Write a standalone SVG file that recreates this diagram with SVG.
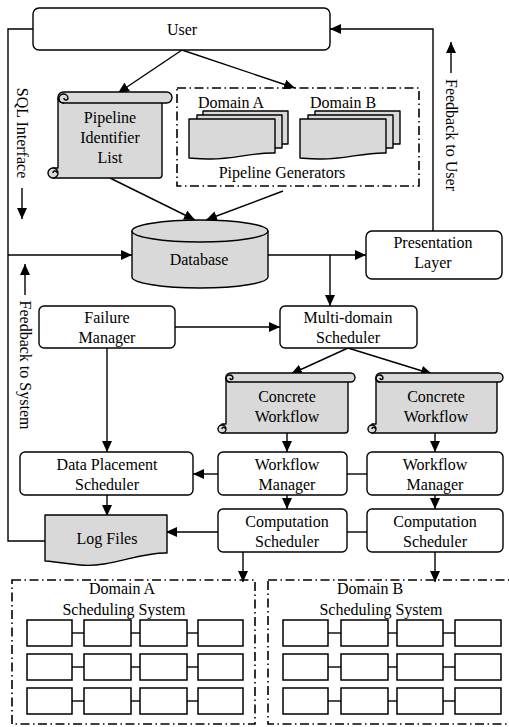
<svg xmlns="http://www.w3.org/2000/svg" width="509" height="727" viewBox="0 0 509 727">
<defs>
<style>
text{font-family:Liberation Serif,serif;font-size:16px;fill:#000;text-anchor:middle}
.box{fill:#fff;stroke:#000;stroke-width:1.4}
.g{fill:#d9d9d9;stroke:#000;stroke-width:1.4;stroke-linejoin:round}
.ln{fill:none;stroke:#000;stroke-width:1.4}
.dd{fill:none;stroke:#000;stroke-width:1.6;stroke-dasharray:9,3.5,1.5,3.5}
.cell{fill:#fff;stroke:#000;stroke-width:1.5}
</style>
<marker id="ah" markerUnits="userSpaceOnUse" markerWidth="12" markerHeight="10" refX="11" refY="5" orient="auto">
<path d="M0,0 L11,5 L0,10 Z" fill="#000"/>
</marker>
</defs>

<g id="connectors" class="ln">
<polyline class="ln" points="34,29 8,29 8,541 45,541"/>
<line x1="8" y1="255" x2="132" y2="255" marker-end="url(#ah)"/>
<polyline class="ln" points="433,231 433,29 330,29" marker-end="url(#ah)"/>
<line x1="182" y1="50" x2="118" y2="93" marker-end="url(#ah)"/>
<line x1="182" y1="50" x2="295" y2="88" marker-end="url(#ah)"/>
<line x1="110" y1="178" x2="195" y2="220" marker-end="url(#ah)"/>
<line x1="283" y1="191" x2="206" y2="220" marker-end="url(#ah)"/>
<line x1="268" y1="255" x2="366" y2="255" marker-end="url(#ah)"/>
<line x1="330" y1="255" x2="330" y2="306" marker-end="url(#ah)"/>
<line x1="175" y1="327" x2="280" y2="327" marker-end="url(#ah)"/>
<line x1="348" y1="348" x2="291" y2="374" marker-end="url(#ah)"/>
<line x1="348" y1="348" x2="432" y2="374" marker-end="url(#ah)"/>
<line x1="107" y1="348" x2="107" y2="452" marker-end="url(#ah)"/>
<line x1="287" y1="433" x2="287" y2="452" marker-end="url(#ah)"/>
<line x1="435" y1="433" x2="435" y2="452" marker-end="url(#ah)"/>
<line x1="218" y1="474" x2="193" y2="474" marker-end="url(#ah)"/>
<line x1="347" y1="474" x2="367" y2="474"/>
<line x1="287" y1="495" x2="287" y2="509" marker-end="url(#ah)"/>
<line x1="435" y1="495" x2="435" y2="509" marker-end="url(#ah)"/>
<line x1="107" y1="495" x2="107" y2="516" marker-end="url(#ah)"/>
<line x1="218" y1="532" x2="166" y2="532" marker-end="url(#ah)"/>
<line x1="347" y1="532" x2="367" y2="532"/>
<line x1="243" y1="552" x2="243" y2="582" marker-end="url(#ah)"/>
<line x1="435" y1="552" x2="435" y2="582" marker-end="url(#ah)"/>
<line x1="22" y1="188" x2="22" y2="219" marker-end="url(#ah)"/>
<line x1="451" y1="73" x2="451" y2="42" marker-end="url(#ah)"/>
<line x1="25" y1="295" x2="25" y2="264" marker-end="url(#ah)"/>
</g>

<g id="labels">
<text transform="translate(22,133) rotate(90)" dy="5">SQL Interface</text>
<text transform="translate(451,135) rotate(90)" dy="5">Feedback to User</text>
<text transform="translate(25,365) rotate(90)" dy="5">Feedback to System</text>
</g>

<g id="user">
<rect class="box" x="33" y="8" width="297" height="42" rx="6"/>
<text x="182" y="35">User</text>
</g>

<g id="pipeline-list">
<path class="g" d="M58,98 H162 V175 Q162,178 159,178 H53 V168 H58 Z"/>
<rect class="g" x="58" y="92" width="114" height="11" rx="5.5"/>
<path class="ln" d="M64,103 a4.5,4.5 0 1 1 4,-5 a2,2 0 0 1 -4,0"/>
<circle class="g" cx="53" cy="173" r="5"/>
<path class="ln" d="M53,173 a2,2 0 0 1 4,0"/>
<text x="110" y="123">Pipeline</text>
<text x="110" y="143">Identifier</text>
<text x="110" y="163">List</text>
</g>

<g id="pipeline-generators">
<rect class="dd" x="177" y="88" width="242" height="98"/>
<text x="231" y="108">Domain A</text>
<text x="343" y="108">Domain B</text>
<rect class="g" x="203" y="111" width="85" height="33"/>
<rect class="g" x="197" y="115" width="85" height="33"/>
<path class="g" d="M189,119 H275 V153 C255,152 230,160 208,159 C198,159 191,158 189,158 Z"/>
<rect class="g" x="315" y="111" width="85" height="33"/>
<rect class="g" x="308" y="115" width="85" height="33"/>
<path class="g" d="M300,119 H386 V153 C366,152 341,160 319,159 C309,159 302,158 300,158 Z"/>
<text x="282" y="178">Pipeline Generators</text>
</g>

<g id="database">
<path class="g" d="M132,231 V277 A68,11 0 0 0 268,277 V231 Z"/>
<ellipse class="g" cx="200" cy="231" rx="68" ry="11"/>
<text x="199" y="265">Database</text>
</g>

<g id="presentation">
<rect class="box" x="366" y="231" width="136" height="48" rx="6"/>
<text x="433" y="248">Presentation</text>
<text x="433" y="268">Layer</text>
</g>

<g id="failure-manager">
<rect class="box" x="39" y="306" width="136" height="42" rx="5"/>
<text x="107" y="323">Failure</text>
<text x="107" y="343">Manager</text>
</g>

<g id="multi-domain">
<rect class="box" x="280" y="306" width="137" height="42" rx="5"/>
<text x="348" y="323">Multi-domain</text>
<text x="348" y="343">Scheduler</text>
</g>

<g id="concrete-1">
<path class="g" d="M226,378 H348 V430 Q348,433 345,433 H222 V424 H226 Z"/>
<rect class="g" x="226" y="373" width="129" height="9" rx="4.5"/>
<path class="ln" d="M230,382 a3.5,3.5 0 1 1 3,-4 a1.5,1.5 0 0 1 -3,0"/>
<circle class="g" cx="222" cy="429" r="4"/>
<path class="ln" d="M222,429 a1.7,1.7 0 0 1 3.4,0"/>
<text x="287" y="402">Concrete</text>
<text x="287" y="422">Workflow</text>
</g>

<g id="concrete-2">
<path class="g" d="M376,378 H497 V430 Q497,433 494,433 H372 V424 H376 Z"/>
<rect class="g" x="376" y="373" width="127" height="9" rx="4.5"/>
<path class="ln" d="M380,382 a3.5,3.5 0 1 1 3,-4 a1.5,1.5 0 0 1 -3,0"/>
<circle class="g" cx="372" cy="429" r="4"/>
<path class="ln" d="M372,429 a1.7,1.7 0 0 1 3.4,0"/>
<text x="436" y="402">Concrete</text>
<text x="436" y="422">Workflow</text>
</g>

<g id="data-placement">
<rect class="box" x="20" y="452" width="173" height="43" rx="5"/>
<text x="107" y="470">Data Placement</text>
<text x="107" y="490">Scheduler</text>
</g>

<g id="workflow-manager-1">
<rect class="box" x="218" y="452" width="129" height="43" rx="5"/>
<text x="287" y="470">Workflow</text>
<text x="287" y="490">Manager</text>
</g>

<g id="workflow-manager-2">
<rect class="box" x="367" y="452" width="136" height="43" rx="5"/>
<text x="435" y="470">Workflow</text>
<text x="435" y="490">Manager</text>
</g>

<g id="log-files">
<path class="g" d="M45,515 H167 V553 C140,552 110,568 80,565 C60,563 50,561 45,561 Z"/>
<text x="107" y="544">Log Files</text>
</g>

<g id="computation-1">
<rect class="box" x="218" y="509" width="129" height="43" rx="5"/>
<text x="287" y="527">Computation</text>
<text x="287" y="547">Scheduler</text>
</g>

<g id="computation-2">
<rect class="box" x="367" y="509" width="136" height="43" rx="5"/>
<text x="435" y="527">Computation</text>
<text x="435" y="547">Scheduler</text>
</g>

<g id="domain-a">
<rect class="dd" x="12" y="580" width="243" height="144"/>
<text x="122" y="594">Domain A</text>
<text x="124" y="615">Scheduling System</text>
<g class="ln">
<line x1="72" y1="633" x2="84" y2="633"/><line x1="131" y1="633" x2="140" y2="633"/><line x1="187" y1="633" x2="198" y2="633"/>
<line x1="72" y1="667" x2="84" y2="667"/><line x1="131" y1="667" x2="140" y2="667"/><line x1="187" y1="667" x2="198" y2="667"/>
<line x1="72" y1="701" x2="84" y2="701"/><line x1="131" y1="701" x2="140" y2="701"/><line x1="187" y1="701" x2="198" y2="701"/>
</g>
<rect class="cell" x="27" y="620" width="45" height="26"/><rect class="cell" x="84" y="620" width="47" height="26"/><rect class="cell" x="140" y="620" width="47" height="26"/><rect class="cell" x="198" y="620" width="45" height="26"/>
<rect class="cell" x="27" y="654" width="45" height="26"/><rect class="cell" x="84" y="654" width="47" height="26"/><rect class="cell" x="140" y="654" width="47" height="26"/><rect class="cell" x="198" y="654" width="45" height="26"/>
<rect class="cell" x="27" y="688" width="45" height="26"/><rect class="cell" x="84" y="688" width="47" height="26"/><rect class="cell" x="140" y="688" width="47" height="26"/><rect class="cell" x="198" y="688" width="45" height="26"/>
</g>

<g id="domain-b">
<rect class="dd" x="268" y="580" width="246" height="144"/>
<text x="370" y="594">Domain B</text>
<text x="381" y="615">Scheduling System</text>
<g class="ln">
<line x1="328" y1="633" x2="341" y2="633"/><line x1="388" y1="633" x2="397" y2="633"/><line x1="443" y1="633" x2="455" y2="633"/>
<line x1="328" y1="667" x2="341" y2="667"/><line x1="388" y1="667" x2="397" y2="667"/><line x1="443" y1="667" x2="455" y2="667"/>
<line x1="328" y1="701" x2="341" y2="701"/><line x1="388" y1="701" x2="397" y2="701"/><line x1="443" y1="701" x2="455" y2="701"/>
</g>
<rect class="cell" x="283" y="620" width="45" height="26"/><rect class="cell" x="341" y="620" width="47" height="26"/><rect class="cell" x="397" y="620" width="46" height="26"/><rect class="cell" x="455" y="620" width="46" height="26"/>
<rect class="cell" x="283" y="654" width="45" height="26"/><rect class="cell" x="341" y="654" width="47" height="26"/><rect class="cell" x="397" y="654" width="46" height="26"/><rect class="cell" x="455" y="654" width="46" height="26"/>
<rect class="cell" x="283" y="688" width="45" height="26"/><rect class="cell" x="341" y="688" width="47" height="26"/><rect class="cell" x="397" y="688" width="46" height="26"/><rect class="cell" x="455" y="688" width="46" height="26"/>
</g>
</svg>
